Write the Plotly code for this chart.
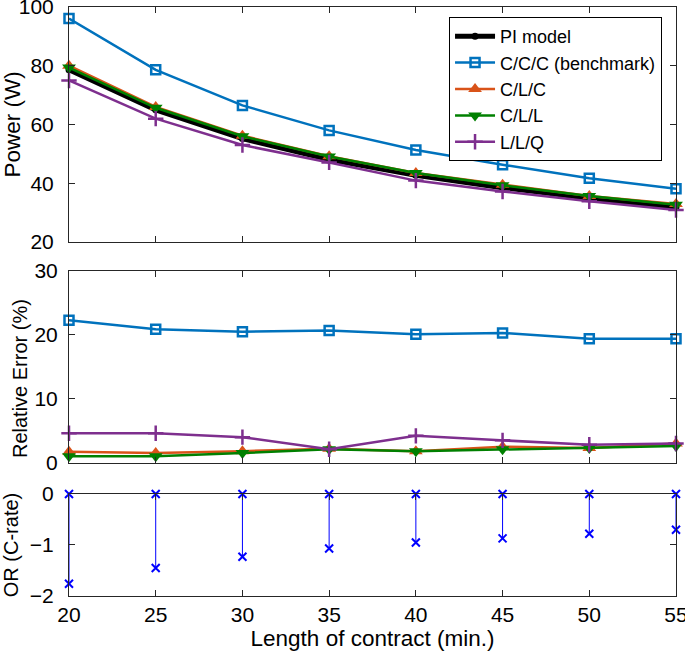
import plotly.graph_objects as go

x_len = [20, 25, 30, 35, 40, 45, 50, 55]

power_pi = [78.6, 65.0, 55.2, 48.1, 42.7, 38.5, 34.9, 31.9]
power_ccc = [96.1, 78.6, 66.5, 58.0, 51.3, 46.3, 41.7, 38.1]
power_clc = [80.0, 66.0, 56.2, 49.2, 43.5, 39.5, 35.7, 32.9]
power_cll = [79.4, 65.7, 56.0, 49.1, 43.5, 39.3, 35.7, 32.7]
power_llq = [75.0, 62.0, 53.0, 47.1, 40.9, 37.2, 33.9, 30.9]

err_ccc = [22.3, 20.9, 20.5, 20.7, 20.1, 20.3, 19.4, 19.4]
err_clc = [1.7, 1.5, 1.8, 2.2, 1.8, 2.5, 2.3, 3.0]
err_cll = [1.0, 1.0, 1.5, 2.1, 1.8, 2.1, 2.3, 2.6]
err_llq = [4.6, 4.6, 4.0, 2.1, 4.2, 3.5, 2.8, 3.0]

or_crate = [-1.76, -1.45, -1.23, -1.07, -0.95, -0.87, -0.78, -0.70]

names = ["PI model", "C/C/C (benchmark)", "C/L/C", "C/L/L", "L/L/Q"]
colors = ["#000000", "#0072BD", "#D95319", "#008000", "#7E2F8E"]

FONT = "Liberation Sans, Arial, Helvetica, sans-serif"
AX = "#262626"

styles = [
    dict(line=dict(color=colors[0], width=5), marker=dict(symbol="circle", size=7, color=colors[0])),
    dict(line=dict(color=colors[1], width=2.5), marker=dict(symbol="square-open", size=9, color=colors[1], line=dict(width=2.5, color=colors[1]))),
    dict(line=dict(color=colors[2], width=2.5), marker=dict(symbol="triangle-up", size=12, color=colors[2])),
    dict(line=dict(color=colors[3], width=2.5), marker=dict(symbol="triangle-down", size=12, color=colors[3])),
    dict(line=dict(color=colors[4], width=2.5), marker=dict(symbol="cross-thin-open", size=11, color=colors[4], line=dict(width=2.5, color=colors[4]))),
]

fig = go.Figure()

power_series = [power_pi, power_ccc, power_clc, power_cll, power_llq]
for i, ys in enumerate(power_series):
    fig.add_trace(go.Scatter(x=x_len, y=ys, mode="lines+markers", name=names[i],
                             xaxis="x", yaxis="y", showlegend=True, cliponaxis=False,
                             **styles[i]))

err_series = [err_ccc, err_clc, err_cll, err_llq]
for j, ys in enumerate(err_series):
    i = j + 1
    fig.add_trace(go.Scatter(x=x_len, y=ys, mode="lines+markers", name=names[i],
                             xaxis="x2", yaxis="y2", showlegend=False, cliponaxis=False,
                             **styles[i]))

# stems for OR
sx, sy = [], []
for xv, yv in zip(x_len, or_crate):
    sx += [xv, xv, None]
    sy += [0, yv, None]
fig.add_trace(go.Scatter(x=sx, y=sy, mode="lines+markers", xaxis="x3", yaxis="y3",
                         showlegend=False, connectgaps=False, cliponaxis=False,
                         line=dict(color="#0000FF", width=1),
                         marker=dict(symbol="x-thin-open", size=8, color="#0000FF",
                                     line=dict(width=2, color="#0000FF"))))

def xax(anchor, show_labels, title=None):
    d = dict(range=[20, 55], tickvals=x_len, showline=True, linecolor=AX, linewidth=1,
             mirror="ticks", ticks="inside", ticklen=6, tickcolor=AX,
             showgrid=False, zeroline=False, anchor=anchor, automargin=False,
             showticklabels=show_labels, tickfont=dict(size=21, color="black"),
             ticklabeloverflow="allow")
    if title:
        d["title"] = dict(text=title, font=dict(size=22.5, color="black"), standoff=4)
    return d

def yax(rng, dtick, domain, anchor, title, tsize, standoff, lblstandoff=10):
    d = dict(range=rng, dtick=dtick, domain=domain, showline=True, linecolor=AX, linewidth=1,
             mirror="ticks", ticks="inside", ticklen=6, tickcolor=AX,
             showgrid=False, zeroline=False, anchor=anchor, automargin=False,
             tickfont=dict(size=21, color="black"), ticklabelstandoff=lblstandoff,
             ticklabeloverflow="allow")
    if title:
        d["title"] = dict(text=title, font=dict(size=tsize, color="black"), standoff=standoff)
    return d

fig.update_layout(
    width=685, height=659,
    margin=dict(l=69, r=9, t=7, b=63),
    paper_bgcolor="white", plot_bgcolor="white",
    font=dict(family=FONT, size=19, color="black"),
    xaxis=xax("y", False),
    xaxis2=xax("y2", False),
    xaxis3=xax("y3", True, "Length of contract (min.)"),
    yaxis=yax([20, 100], 20, [0.601, 1.0], "x", "Power (W)", 22.5, 2),
    yaxis2=yax([0, 30], 10, [0.2263, 0.5518], "x2", None, 20, 5, 6),
    yaxis3=yax([-2, 0], 1, [0.0, 0.1732], "x3", "OR (C-rate)", 20, 5),
    legend=dict(x=0.977, y=0.983, xanchor="right", yanchor="top",
                bordercolor="black", borderwidth=1, bgcolor="white",
                font=dict(size=18, color="black"), tracegroupgap=0,
                itemwidth=40),
    showlegend=True,
    annotations=[dict(text="Relative Error (%)", xref="paper", yref="paper",
                      x=-0.0807, y=0.3684, xanchor="center", yanchor="middle",
                      textangle=-90, showarrow=False,
                      font=dict(size=20, color="black"))],
)

fig.write_html("out.html", config={"displayModeBar": False},
               post_script="document.body.style.margin='0';document.body.style.padding='0';document.body.style.overflow='hidden';")
